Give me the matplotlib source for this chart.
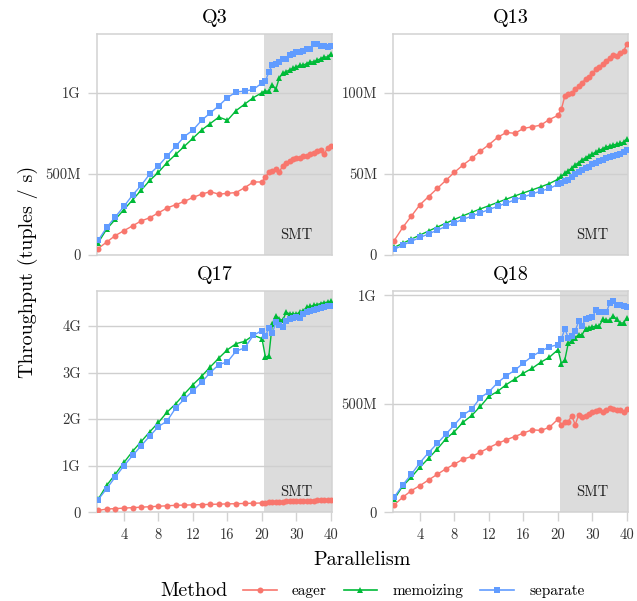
import numpy as np
import matplotlib.pyplot as plt
from matplotlib.lines import Line2D
from matplotlib.ticker import FuncFormatter
import matplotlib.transforms as mtransforms

plt.rcParams['font.family'] = ['cmr10']
plt.rcParams['axes.formatter.use_mathtext'] = True
plt.rcParams['mathtext.fontset'] = 'cm'

parallelism = list(range(1, 41))
methods = ['eager', 'memoizing', 'separate']
colors = ['#F8766D', '#00BA38', '#619CFF']
markers = ['o', '^', 's']
marker_sizes = [4.3, 4.8, 4.0]

# Q3, values in G tuples/s
q3_eager = [0.04, 0.08, 0.12, 0.15, 0.18, 0.21, 0.23, 0.26, 0.29, 0.31,
            0.33, 0.355, 0.375, 0.39, 0.375, 0.38, 0.385, 0.415, 0.45, 0.45,
            0.48, 0.51, 0.52, 0.53, 0.51, 0.55, 0.57, 0.58, 0.59, 0.60,
            0.60, 0.61, 0.61, 0.62, 0.63, 0.64, 0.645, 0.62, 0.66, 0.67]
q3_memo = [0.075, 0.16, 0.22, 0.28, 0.34, 0.40, 0.46, 0.51, 0.57, 0.62,
           0.67, 0.72, 0.77, 0.81, 0.85, 0.83, 0.89, 0.93, 0.97, 1.00,
           1.01, 1.01, 1.05, 1.02, 1.09, 1.12, 1.13, 1.14, 1.15, 1.16,
           1.17, 1.17, 1.18, 1.19, 1.19, 1.20, 1.21, 1.22, 1.22, 1.24]
q3_sep = [0.09, 0.17, 0.235, 0.30, 0.37, 0.43, 0.50, 0.55, 0.61, 0.67,
          0.73, 0.77, 0.83, 0.875, 0.92, 0.97, 1.005, 1.01, 1.02, 1.06,
          1.07, 1.13, 1.17, 1.18, 1.19, 1.21, 1.21, 1.23, 1.24, 1.25,
          1.25, 1.26, 1.27, 1.27, 1.30, 1.30, 1.29, 1.29, 1.28, 1.29]

# Q13, values in M tuples/s
q13_eager = [8.8, 17, 24, 31, 36, 41, 46, 51, 55.5, 59.5,
             64, 68, 72.5, 75.5, 75, 78, 79, 80, 83.5, 86,
             90, 98, 99, 100, 102, 104, 106, 108.5, 110, 112,
             114.5, 116, 117.5, 119.5, 121.5, 123.5, 122.5, 124.5, 125.5, 130]
q13_memo = [4.7, 7.2, 9.8, 12.3, 14.8, 17.2, 19.6, 22, 24.2, 26.3,
            28.4, 30.4, 32.4, 34.4, 36.4, 38.3, 40.1, 42, 44, 46.7,
            48.5, 50.5, 52, 53.5, 55.5, 57, 58.5, 60, 61, 62.3,
            63.5, 64.5, 65.5, 66.5, 67.2, 67.8, 68.3, 68.8, 69.5, 71.5]
q13_sep = [3.5, 6, 8.5, 10.8, 13, 15.3, 17.6, 19.9, 22, 24,
           26, 28, 30, 32, 34, 35.8, 37.6, 39.4, 41, 43.5,
           44.5, 45.5, 46.5, 48, 50, 51, 52.5, 53.5, 54.5, 56,
           57, 58, 58.5, 59.5, 60.5, 61, 61.5, 62.5, 63.5, 64.5]

# Q17, values in G tuples/s
q17_eager = [0.04, 0.07, 0.08, 0.09, 0.10, 0.11, 0.12, 0.13, 0.14, 0.15,
             0.155, 0.16, 0.165, 0.17, 0.175, 0.18, 0.185, 0.19, 0.195, 0.20,
             0.21, 0.215, 0.22, 0.225, 0.23, 0.23, 0.235, 0.235, 0.24, 0.24,
             0.245, 0.245, 0.25, 0.25, 0.25, 0.255, 0.255, 0.26, 0.26, 0.26]
q17_memo = [0.28, 0.58, 0.82, 1.07, 1.31, 1.52, 1.73, 1.93, 2.15, 2.33,
            2.54, 2.74, 2.92, 3.12, 3.31, 3.49, 3.62, 3.67, 3.80, 3.73,
            3.33, 3.36, 4.05, 4.22, 4.15, 4.12, 4.29, 4.26, 4.26, 4.25,
            4.30, 4.33, 4.40, 4.42, 4.44, 4.46, 4.48, 4.50, 4.51, 4.53]
q17_sep = [0.27, 0.51, 0.76, 1.00, 1.22, 1.43, 1.64, 1.84, 1.96, 2.24,
           2.43, 2.61, 2.79, 3.00, 3.17, 3.23, 3.46, 3.53, 3.80, 3.90,
           3.78, 3.96, 3.84, 4.08, 4.02, 3.98, 4.10, 4.15, 4.17, 4.19,
           4.18, 4.26, 4.30, 4.33, 4.35, 4.37, 4.39, 4.40, 4.42, 4.43]

# Q18, values in M tuples/s
q18_eager = [34, 69, 100, 123, 149, 175, 200, 222, 245, 257,
             277, 298, 317, 334, 349, 365, 380, 377, 391, 429,
             403, 418, 418, 445, 403, 449, 441, 445, 454, 464,
             466, 469, 464, 472, 480, 475, 470, 469, 460, 475]
q18_memo = [60, 121, 162, 208, 249, 291, 338, 372, 415, 446,
            488, 534, 557, 588, 614, 641, 663, 691, 714, 749,
            685, 703, 780, 788, 805, 818, 818, 845, 850, 854,
            857, 860, 888, 885, 885, 906, 888, 872, 872, 896]
q18_sep = [69, 126, 175, 229, 275, 317, 360, 403, 448, 475,
           528, 555, 597, 629, 654, 688, 718, 742, 762, 772,
           800, 845, 803, 811, 835, 880, 860, 890, 896, 900,
           931, 921, 921, 921, 962, 972, 957, 955, 952, 946]

panels = [
    ('Q3', [q3_eager, q3_memo, q3_sep], 1e9, [0, 5e8, 1e9]),
    ('Q13', [q13_eager, q13_memo, q13_sep], 1e6, [0, 5e7, 1e8]),
    ('Q17', [q17_eager, q17_memo, q17_sep], 1e9, [0, 1e9, 2e9, 3e9, 4e9]),
    ('Q18', [q18_eager, q18_memo, q18_sep], 1e6, [0, 5e8, 1e9]),
]
xticks = [4, 8, 12, 16, 20, 30, 40]


# parallelism above 20 (SMT) is squeezed to 0.4 of the width
def fwd(x):
    x = np.asarray(x, dtype=float)
    return np.where(x <= 20, x, 20 + 0.4 * (x - 20))


def inv(y):
    y = np.asarray(y, dtype=float)
    return np.where(y <= 20, y, 20 + (y - 20) / 0.4)


def fmt(v, pos):
    if v == 0:
        return '0'
    if v >= 1e9:
        return f'{v / 1e9:g}G'
    return f'{v / 1e6:g}M'


W, H = 637, 601
fig = plt.figure(figsize=(W / 100, H / 100), dpi=100)

lefts = [97, 393]
rows = [(33.5, 255), (290.7, 512.3)]
grey = '#d2d2d2'

for i, (name, series, unit, yticks) in enumerate(panels):
    r, c = divmod(i, 2)
    top, bot = rows[r]
    ax = fig.add_axes([lefts[c] / W, 1 - bot / H, 235 / W, (bot - top) / H])
    ax.set_xscale('function', functions=(fwd, inv))

    ymax = 0
    for vals, col, mk, ms in zip(series, colors, markers, marker_sizes):
        y = np.array(vals) * unit
        ymax = max(ymax, y.max())
        ax.plot(parallelism, y, color=col, marker=mk, ms=ms, mew=0, lw=1.0, zorder=3)

    ax.set_xlim(0.87, 40.3)
    ax.set_ylim(0, ymax * 1.05)
    ax.axvspan(20.55, 40.3, color='#dcdcdc', lw=0, zorder=0.2)
    trans = mtransforms.blended_transform_factory(ax.transData, ax.transAxes)
    ax.text(30, 0.09, 'SMT', transform=trans, ha='center', va='center',
            fontsize=10.5, color='#222222', zorder=4)

    ax.set_yticks(yticks)
    ax.yaxis.set_major_formatter(FuncFormatter(fmt))
    ax.set_xticks(xticks)
    ax.set_xticklabels([str(t) for t in xticks])
    ax.minorticks_off()
    ax.set_axisbelow(True)
    ax.grid(axis='y', color='#cfcfcf', lw=1.0)
    for s in ax.spines.values():
        s.set_color(grey)
        s.set_linewidth(1.1)
    ax.tick_params(axis='both', length=6.5, width=1.0, color=grey, pad=5,
                   labelsize=10.5, labelcolor='#333333')
    if r == 0:
        ax.tick_params(axis='x', length=0, labelbottom=False)
    ax.set_title(name, fontsize=14.5, pad=7.5)

fig.text(28 / W, 1 - 272 / H, 'Throughput (tuples / s)', rotation=90,
         ha='center', va='center', fontsize=14.5)
fig.text(362.5 / W, 1 - 560 / H, 'Parallelism', ha='center', va='center', fontsize=14.5)

fig.text(160 / W, 1 - 591.5 / H, 'Method', ha='left', va='center', fontsize=14.5)
handles = [Line2D([], [], color=col, marker=mk, ms=ms, mew=0, lw=1.2)
           for col, mk, ms in zip(colors, markers, marker_sizes)]
fig.legend(handles, methods, loc='center left', bbox_to_anchor=(243 / W, 1 - 591.5 / H),
           ncol=3, frameon=False, fontsize=11, handlelength=2.2, handletextpad=1.0,
           columnspacing=1.1, borderpad=0, borderaxespad=0)

fig.savefig('out.png', dpi=100)
